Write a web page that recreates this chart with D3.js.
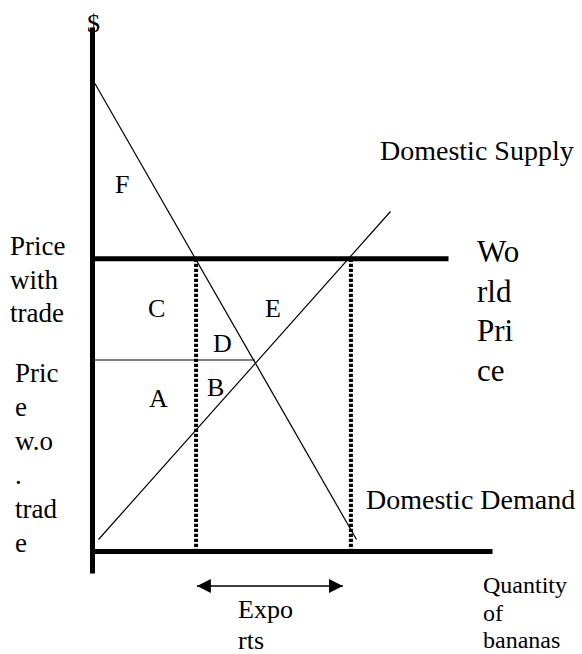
<!DOCTYPE html>
<html>
<head>
<meta charset="utf-8">
<script src="https://cdn.jsdelivr.net/npm/d3@7"></script>
<style>
  body { margin: 0; background: #fff; }
</style>
</head>
<body>
<div id="chart_div"></div>
<script>
// price / quantity values (quantity 0-100, price 0-131)
const demandPts = [{q: 0.6, p: 117}, {q: 66, p: 3}]
const supplyPts = [{q: 1.5, p: 3}, {q: 74.5, p: 85}]
const worldPrice = 73.2
const noTradePrice = 47.9
const worldLineEnd = 89
const noTradeLineEnd = 40.6
const domesticQty = 25.9      // quantity demanded at world price
const producedQty = 64.6      // quantity supplied at world price
const exportArrow = [26.1, 62.6]

// area letters
const areaLabels = [
  {t: "F", q: 5.6, p: 89.6},
  {t: "C", q: 13.9, p: 58.6},
  {t: "E", q: 43.1, p: 58.6},
  {t: "D", q: 30.1, p: 49.9},
  {t: "B", q: 28.6, p: 38.9},
  {t: "A", q: 14.1, p: 36.1}
]
const withTradeLines = ["Price", "with", "trade"]
const noTradeLines = ["Pric", "e", "w.o", ".", "trad", "e"]
const worldLines = ["Wo", "rld", "Pri", "ce"]
const exportLines = ["Expo", "rts"]
const qtyLines = ["Quantity", "of", "bananas"]

const width = 582, height = 654
const serif = "'Liberation Serif', 'Times New Roman', 'DejaVu Serif', serif"

const svg = d3.select("#chart_div")
  .append("svg")
  .attr("width", width)
  .attr("height", height)
  .attr("viewBox", `0 0 ${width} ${height}`)
  .style("font-family", serif)

// quantity to x, price to y
const x = d3.scaleLinear().domain([0, 100]).range([92.5, 492.5])
const y = d3.scaleLinear().domain([0, 131]).range([551.5, 27.5])

// arrow heads
const defs = svg.append("defs")
defs.append("marker")
  .attr("id", "head")
  .attr("viewBox", "0 0 14 14")
  .attr("refX", 14).attr("refY", 7)
  .attr("markerWidth", 14).attr("markerHeight", 14)
  .attr("markerUnits", "userSpaceOnUse")
  .attr("orient", "auto-start-reverse")
  .append("path")
  .attr("d", "M0,0 L14,7 L0,14 Z")
  .attr("fill", "#000")

const line = d3.line().x(d => x(d.q)).y(d => y(d.p))

// price without trade (grey)
svg.append("path")
  .datum([{q: 0, p: noTradePrice}, {q: noTradeLineEnd, p: noTradePrice}])
  .attr("d", line)
  .attr("fill", "none")
  .attr("stroke", "#555")
  .attr("stroke-width", 1.5)

// dotted drop lines
svg.selectAll(".drop")
  .data([domesticQty, producedQty])
  .join("line")
  .attr("class", "drop")
  .attr("x1", d => x(d)).attr("x2", d => x(d))
  .attr("y1", y(worldPrice)).attr("y2", y(0))
  .attr("stroke", "#000")
  .attr("stroke-width", 4)
  .attr("stroke-dasharray", "3.3,1.7")

// demand and supply
svg.append("path").datum(demandPts).attr("d", line)
  .attr("fill", "none").attr("stroke", "#000").attr("stroke-width", 1.2)
svg.append("path").datum(supplyPts).attr("d", line)
  .attr("fill", "none").attr("stroke", "#000").attr("stroke-width", 1.2)

// world price line
svg.append("path")
  .datum([{q: 0, p: worldPrice}, {q: worldLineEnd, p: worldPrice}])
  .attr("d", line)
  .attr("stroke", "#000")
  .attr("stroke-width", 5)

// axes (plain thick lines, no ticks)
svg.append("line")
  .attr("x1", x(0)).attr("x2", x(0))
  .attr("y1", y(131)).attr("y2", y(0) + 22)
  .attr("stroke", "#000").attr("stroke-width", 5)
svg.append("line")
  .attr("x1", x(0)).attr("x2", x(100))
  .attr("y1", y(0)).attr("y2", y(0))
  .attr("stroke", "#000").attr("stroke-width", 5)

// exports arrow
svg.append("line")
  .attr("x1", x(exportArrow[0])).attr("x2", x(exportArrow[1]))
  .attr("y1", 586).attr("y2", 586)
  .attr("stroke", "#000").attr("stroke-width", 1.5)
  .attr("marker-start", "url(#head)")
  .attr("marker-end", "url(#head)")

// area letters
svg.selectAll(".area")
  .data(areaLabels)
  .join("text")
  .attr("class", "area")
  .attr("x", d => x(d.q))
  .attr("y", d => y(d.p))
  .attr("font-family", serif)
  .attr("font-size", 26)
  .text(d => d.t)

// $ on top of the price axis
svg.append("text")
  .attr("x", x(0) + 1).attr("y", 32)
  .attr("text-anchor", "middle")
  .attr("font-family", serif)
  .attr("font-size", 26)
  .text("$")

// stacked text helper
const stack = (lines, x0, y0, step, size) => {
  svg.append("g").selectAll("text")
    .data(lines)
    .join("text")
    .attr("x", x0)
    .attr("y", (d, i) => y0 + i * step)
    .attr("font-family", serif)
    .attr("font-size", size)
    .text(d => d)
}

stack(withTradeLines, 10, 255, 33.5, 27)
stack(noTradeLines, 15, 382, 34, 27)
stack(worldLines, 477, 262, 39.5, 31)
stack(exportLines, 238, 618, 31, 26)
stack(qtyLines, 483, 593, 27.5, 24)

svg.append("text").attr("x", 380).attr("y", 160)
  .attr("font-family", serif)
  .attr("font-size", 28).text("Domestic Supply")
svg.append("text").attr("x", 366).attr("y", 509)
  .attr("font-family", serif)
  .attr("font-size", 28).text("Domestic Demand")
</script>
</body>
</html>
